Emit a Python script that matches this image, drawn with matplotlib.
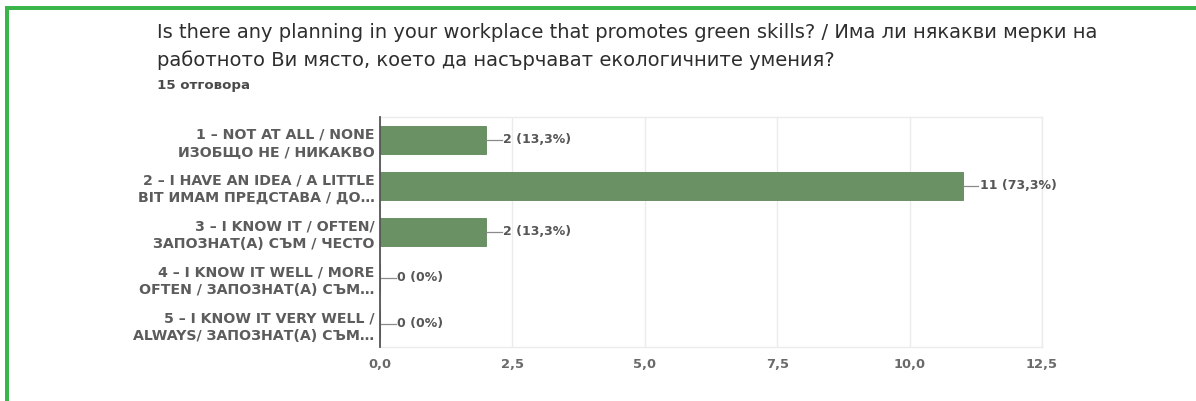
import matplotlib
matplotlib.use("Agg")
import matplotlib.pyplot as plt
from matplotlib.patches import Rectangle

# Survey responses
categories = [
    "1 – NOT AT ALL / NONE\nИЗОБЩО НЕ / НИКАКВО",
    "2 – I HAVE AN IDEA / A LITTLE\nBIT ИМАМ ПРЕДСТАВА / ДО…",
    "3 – I KNOW IT / OFTEN/\nЗАПОЗНАТ(А) СЪМ / ЧЕСТО",
    "4 – I KNOW IT WELL / MORE\nOFTEN / ЗАПОЗНАТ(А) СЪМ…",
    "5 – I KNOW IT VERY WELL /\nALWAYS/ ЗАПОЗНАТ(А) СЪМ…",
]
counts = [2, 11, 2, 0, 0]
percents = ["13,3%", "73,3%", "13,3%", "0%", "0%"]
xticks = [0, 2.5, 5.0, 7.5, 10.0, 12.5]
xtick_labels = ["0,0", "2,5", "5,0", "7,5", "10,0", "12,5"]

title_line1 = "Is there any planning in your workplace that promotes green skills? / Има ли някакви мерки на"
title_line2 = "работното Ви място, което да насърчават екологичните умения?"
subtitle = "15 отговора"

W, H = 1196, 401
fig = plt.figure(figsize=(W / 100, H / 100), dpi=100)
fig.patch.set_facecolor("white")

ax = fig.add_axes([380 / W, 1 - 347 / H, (1042 - 380) / W, (347 - 117) / H])

label_font = ["DejaVu Sans"]
bar_color = "#6a9163"
ypos = list(range(len(categories)))
ax.barh(ypos, counts, height=0.6, color=bar_color, edgecolor="#5f8758", linewidth=0.6, zorder=3)

ax.set_xlim(0, 12.5)
ax.set_ylim(len(categories) - 0.5, -0.5)
ax.set_xticks(xticks)
ax.set_xticklabels(xtick_labels)
ax.set_yticks(ypos)
ax.set_yticklabels(categories)

for lbl in ax.get_yticklabels():
    lbl.set_fontfamily(label_font)
    lbl.set_fontweight("bold")
    lbl.set_fontsize(10.2)
    lbl.set_color("#5c5c5c")
    lbl.set_linespacing(1.28)
for lbl in ax.get_xticklabels():
    lbl.set_fontfamily(label_font)
    lbl.set_fontweight("bold")
    lbl.set_fontsize(9.4)
    lbl.set_color("#6a6a6a")

ax.tick_params(axis="both", length=0)
ax.tick_params(axis="y", pad=4)
ax.tick_params(axis="x", pad=8)

ax.grid(axis="x", color="#ebebeb", linewidth=1.0, zorder=0)
for side in ["top", "bottom", "right"]:
    ax.spines[side].set_color("#ebebeb")
    ax.spines[side].set_linewidth(1.0)
ax.spines["left"].set_color("#555555")
ax.spines["left"].set_linewidth(1.3)
ax.spines["left"].set_zorder(4)

# Value labels with short leader lines
lead = 0.3
for y, c, p in zip(ypos, counts, percents):
    ax.plot([c, c + lead], [y, y], color="#8a8a8a", linewidth=0.9, zorder=3, clip_on=False)
    ax.text(c + lead + 0.02, y, f"{c} ({p})", va="center", ha="left",
            fontsize=9.0, fontweight="bold", color="#565656", family=label_font)

# Heading
fig.text(157 / W, 1 - 32 / H, title_line1, ha="left", va="center",
         fontsize=14.0, color="#2e2e2e", family=["DejaVu Sans"])
fig.text(157 / W, 1 - 60 / H, title_line2, ha="left", va="center",
         fontsize=14.0, color="#2e2e2e", family=["DejaVu Sans"])
fig.text(157 / W, 1 - 85 / H, subtitle, ha="left", va="center",
         fontsize=9.6, fontweight="bold", color="#4a4a4a", family=["DejaVu Sans"])

# Green frame along the top and left edges
green = "#39b54a"
fig.patches.append(Rectangle((5 / W, 0), 4 / W, 1 - 6 / H, transform=fig.transFigure,
                             facecolor=green, edgecolor="none"))
fig.patches.append(Rectangle((5 / W, 1 - 10 / H), 1 - 5 / W, 4 / H, transform=fig.transFigure,
                             facecolor=green, edgecolor="none"))

fig.savefig("out.png", dpi=100)
